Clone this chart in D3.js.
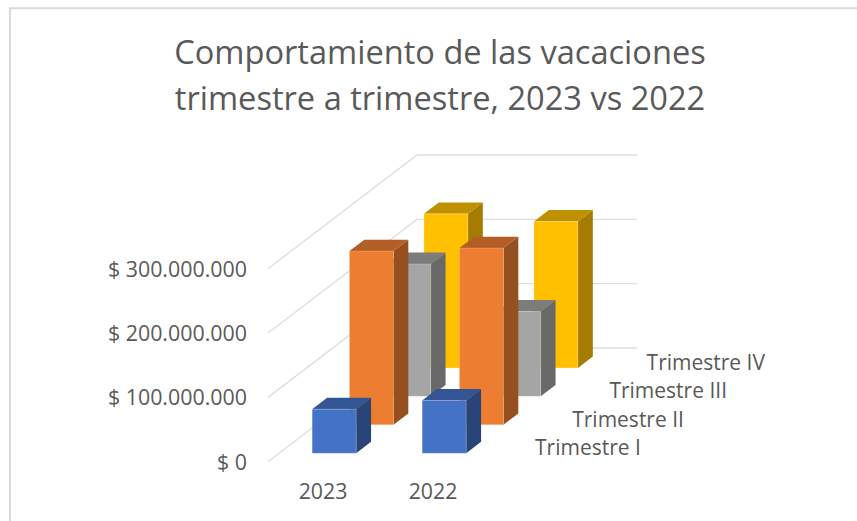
<!DOCTYPE html>
<html><head><meta charset="utf-8">
<script src="https://cdn.jsdelivr.net/npm/d3@7/dist/d3.min.js"></script>
<style>html,body{margin:0;padding:0;background:#fff}svg{display:block}text{font-family:"Open Sans",sans-serif;fill:#595959}</style>
</head><body><svg id="c" width="857" height="521"></svg>
<script>
const titleLines = ["Comportamiento de las vacaciones", "trimestre a trimestre, 2023 vs 2022"];
const categories = ["2023", "2022"];
const seriesNames = ["Trimestre I", "Trimestre II", "Trimestre III", "Trimestre IV"];
const trimestreI = [68400000, 82000000];
const trimestreII = [270000000, 274600000];
const trimestreIII = [205800000, 132000000];
const trimestreIV = [239500000, 227600000];
const seriesValues = [trimestreI, trimestreII, trimestreIII, trimestreIV];
const faceColors = ["#4472C4", "#ED7D31", "#A5A5A5", "#FFC000"];
const topColors = ["#335593", "#B25E25", "#7C7C7C", "#BF9000"];
const sideColors = ["#294476", "#964F1E", "#696969", "#A67C00"];
const yTicks = [0, 100000000, 200000000, 300000000];

const svg = d3.select("#c");
const x = d3.scaleBand().domain(categories).range([268, 488]).paddingInner(0.6).paddingOuter(0.3);
const y = d3.scaleLinear().domain([0, 300000000]).range([461.7, 268.7]);
const depth = d3.scaleBand().domain(seriesNames).range([0, 1]).paddingInner(0.6).paddingOuter(0.3);
const depthX = d3.scaleLinear().domain([0, 1]).range([0, 149]);
const depthY = d3.scaleLinear().domain([0, 1]).range([0, -113.7]);
const px = (u, d) => u + depthX(d);
const py = (v, d) => y(v) + depthY(d);
const poly = pts => d3.line()(pts);

svg.append("path").attr("d", "M10,521V8.3H857").attr("fill", "none").attr("stroke", "#D9D9D9").attr("stroke-width", 2);

svg.append("g").selectAll("text").data(titleLines).join("text")
  .attr("x", 440).attr("y", (d, i) => 64 + i * 45.5).attr("text-anchor", "middle")
  .attr("font-size", 32.6).text(d => d);

const grid = svg.append("g").attr("fill", "none").attr("stroke", "#DEDEDE").attr("stroke-width", 1.4);
grid.selectAll("path").data(yTicks).join("path").attr("d", v => poly([
  [px(x.range()[0], 0), py(v, 0)], [px(x.range()[0], 1), py(v, 1)], [px(x.range()[1], 1), py(v, 1)]
]));

const fmt = v => "$ " + d3.format(",")(v).replace(/,/g, ".");
svg.append("g").selectAll("text").data(yTicks).join("text")
  .attr("x", 247).attr("y", v => y(v) + 8).attr("text-anchor", "end").attr("font-size", 21.4).text(fmt);

svg.append("g").selectAll("text").data(categories).join("text")
  .attr("x", c => x(c) + x.bandwidth() / 2).attr("y", 499).attr("text-anchor", "middle")
  .attr("font-size", 21.3).text(c => c);

const bars = svg.append("g");
d3.range(seriesNames.length - 1, -1, -1).forEach(s => {
  const name = seriesNames[s];
  const d0 = depth(name), d1 = d0 + depth.bandwidth();
  categories.forEach((c, i) => {
    const v = seriesValues[s][i], l = x(c), r = l + x.bandwidth();
    const g = bars.append("g");
    g.append("path").attr("fill", sideColors[s]).attr("d", poly([
      [px(r, d0), py(0, d0)], [px(r, d1), py(0, d1)], [px(r, d1), py(v, d1)], [px(r, d0), py(v, d0)]]) + "Z");
    g.append("path").attr("fill", topColors[s]).attr("d", poly([
      [px(l, d0), py(v, d0)], [px(r, d0), py(v, d0)], [px(r, d1), py(v, d1)], [px(l, d1), py(v, d1)]]) + "Z");
    g.append("path").attr("fill", faceColors[s]).attr("stroke", "#fff").attr("stroke-opacity", 0.2).attr("d", poly([
      [px(l, d0), py(0, d0)], [px(r, d0), py(0, d0)], [px(r, d0), py(v, d0)], [px(l, d0), py(v, d0)]]) + "Z");
  });
});

svg.append("g").selectAll("text").data(seriesNames).join("text")
  .attr("x", (n, i) => 535 + i * 37.2).attr("y", (n, i) => 455 - i * 28.3).attr("font-size", 21).text(n => n);
</script></body></html>
